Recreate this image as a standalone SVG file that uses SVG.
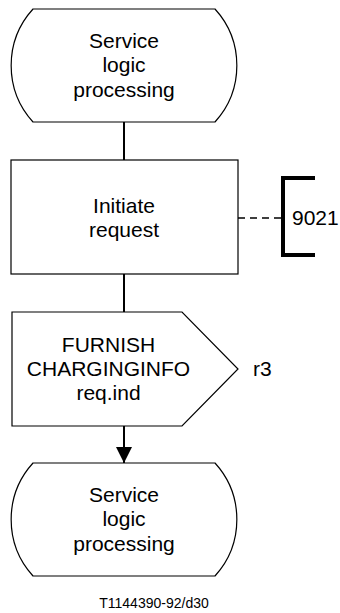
<svg xmlns="http://www.w3.org/2000/svg" width="340" height="613" viewBox="0 0 340 613">
<style>
.s{fill:#fff;stroke:#000;stroke-width:1.2}
.t{font-family:"Liberation Sans",Arial,sans-serif;font-size:21px;fill:#000;text-anchor:middle}
.c{stroke:#000;stroke-width:2;fill:none}
</style>
<defs>
<marker id="ah" markerUnits="userSpaceOnUse" markerWidth="16" markerHeight="16" refX="16" refY="8" orient="auto">
<path d="M0,0 L16,8 L0,16 Z" fill="#000"/>
</marker>
</defs>
<rect width="340" height="613" fill="#fff"/>
<g id="connectors">
<line class="c" x1="124" y1="122" x2="124" y2="160"/>
<line class="c" x1="124" y1="274" x2="124" y2="312"/>
<line class="c" x1="124" y1="426" x2="124" y2="463" marker-end="url(#ah)"/>
<line x1="238" y1="218" x2="282" y2="218" stroke="#000" stroke-width="1.5" stroke-dasharray="7,5"/>
</g>
<g id="start">
<path class="s" d="M33,9 L215,9 A84,84 0 0 1 215,122 L33,122 A84,84 0 0 1 33,9 Z"/>
<text class="t" x="124" y="48">Service</text>
<text class="t" x="124" y="72">logic</text>
<text class="t" x="124" y="97">processing</text>
</g>
<g id="task">
<rect class="s" x="11" y="160" width="227" height="114" stroke-width="1.5"/>
<text class="t" x="124" y="213">Initiate</text>
<text class="t" x="124" y="237">request</text>
</g>
<g id="ref9021">
<path d="M315,178 L283,178 L283,255 L315,255" fill="none" stroke="#000" stroke-width="4"/>
<text class="t" x="292" y="225" style="text-anchor:start">9021</text>
</g>
<g id="signal">
<path class="s" d="M12,312 L182,312 L238,369 L182,426 L12,426 Z"/>
<text class="t" x="108.5" y="352">FURNISH</text>
<text class="t" x="108.5" y="376">CHARGINGINFO</text>
<text class="t" x="108.5" y="400">req.ind</text>
<text class="t" x="253" y="376" style="text-anchor:start">r3</text>
</g>
<g id="end">
<path class="s" d="M33,463 L215,463 A84,84 0 0 1 215,576 L33,576 A84,84 0 0 1 33,463 Z"/>
<text class="t" x="124" y="502">Service</text>
<text class="t" x="124" y="526">logic</text>
<text class="t" x="124" y="551">processing</text>
</g>
<text class="t" x="154" y="608" style="font-size:14px">T1144390-92/d30</text>
</svg>
